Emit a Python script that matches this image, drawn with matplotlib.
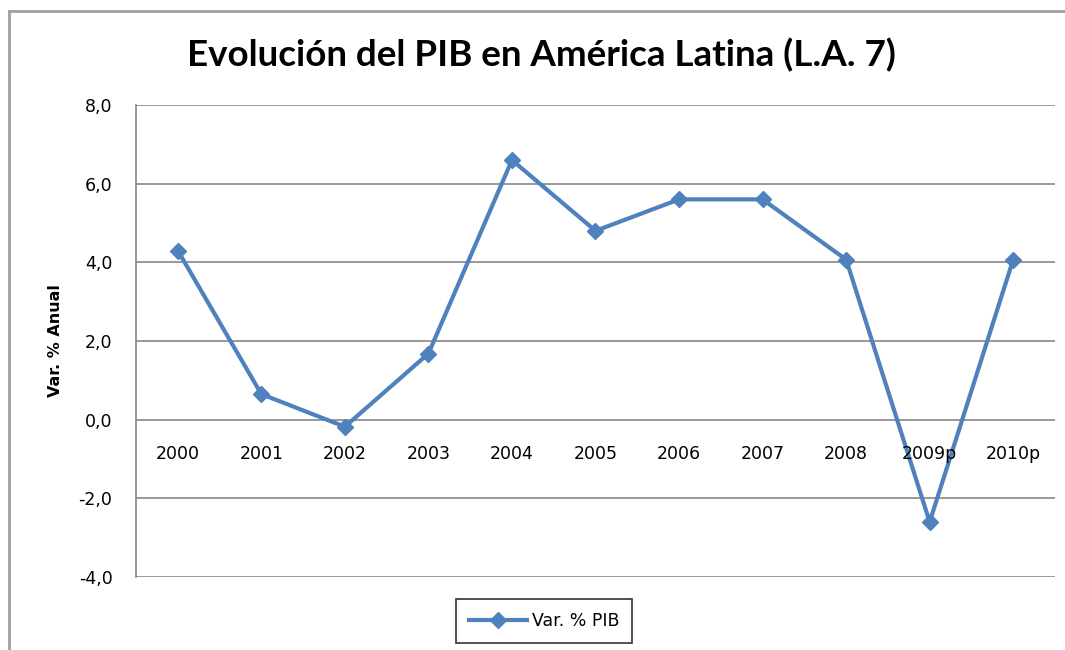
import matplotlib.pyplot as plt
from matplotlib.lines import Line2D

years = ["2000", "2001", "2002", "2003", "2004", "2005", "2006", "2007", "2008", "2009p", "2010p"]
pib = [4.3, 0.65, -0.18, 1.68, 6.6, 4.8, 5.6, 5.6, 4.07, -2.6, 4.07]
y_ticks = [-4, -2, 0, 2, 4, 6, 8]

blue = "#4F81BD"
grid_gray = "#868686"

fig = plt.figure(figsize=(10.65, 6.5), dpi=100)
ax = fig.add_axes([0.1277, 0.1123, 0.8629, 0.7262])

x = list(range(len(years)))
ax.plot(x, pib, color=blue, linewidth=3, marker="D", markersize=8,
        label="Var. % PIB", zorder=3)

ax.set_xlim(-0.5, len(years) - 0.5)
ax.set_ylim(-4, 8)
ax.set_yticks(y_ticks)
ax.set_yticklabels([f"{v:.1f}".replace(".", ",") for v in y_ticks], fontsize=12.5)
ax.tick_params(axis="y", length=0, pad=17)
ax.set_xticks([])

for v in y_ticks:
    ax.axhline(v, color=grid_gray, linewidth=1.2, zorder=1)

for s in ["top", "right", "bottom"]:
    ax.spines[s].set_visible(False)
ax.spines["left"].set_color(grid_gray)
ax.spines["left"].set_linewidth(1.2)

# category labels sit at the zero line like in Excel
for i, yr in enumerate(years):
    ax.annotate(yr, (i, 0), xytext=(0, -25), textcoords="offset points",
                ha="center", va="center", fontsize=12.5, zorder=4)

ax.set_ylabel("Var. % Anual", fontsize=11.5, fontweight="bold", labelpad=11)

fig.text(0.508, 0.915, "Evolución del PIB en América Latina (L.A. 7)",
         ha="center", va="center", fontsize=26.5, fontweight="bold", family="Lato")

leg = fig.legend(handles=[Line2D([], [], color=blue, linewidth=3, marker="D", markersize=8)],
                 labels=["Var. % PIB"], loc="center", bbox_to_anchor=(0.511, 0.045),
                 fontsize=12.5, frameon=True, fancybox=False, edgecolor="black",
                 handlelength=3.3, borderpad=0.75, handletextpad=0.3, borderaxespad=0)
leg.get_frame().set_linewidth(1.2)

# outer chart border (left and top)
fig.add_artist(Line2D([0.0085, 0.0085], [0.0, 0.983], color="#A0A0A0", linewidth=2))
fig.add_artist(Line2D([0.0085, 1.0], [0.983, 0.983], color="#A0A0A0", linewidth=2))

fig.savefig("out.png", dpi=100)
